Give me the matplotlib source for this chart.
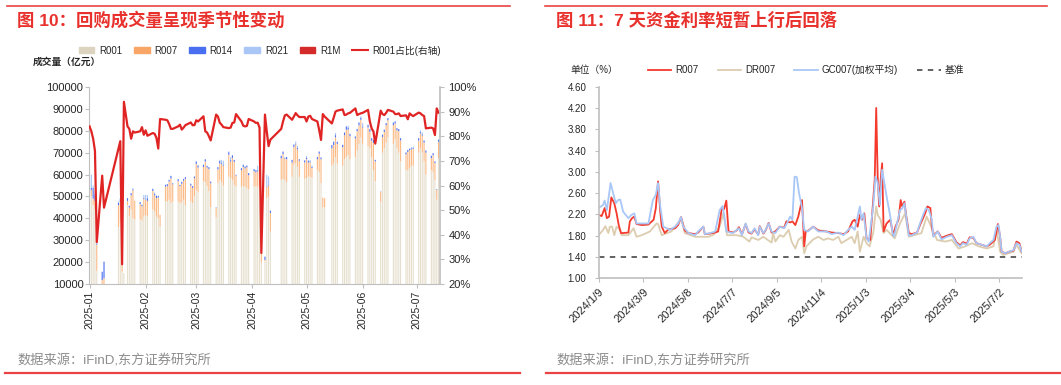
import matplotlib
matplotlib.use("Agg")
import matplotlib.pyplot as plt
from matplotlib.patches import Patch
from matplotlib.lines import Line2D
import numpy as np
import pandas as pd

plt.rcParams['font.family'] = ['Liberation Sans', 'Noto Sans CJK SC']

# ---------------- left chart: repo volume (亿元), x = days after 2025-01-01
day = [0, 1, 2, 3, 4,
       7, 8,
       16, 17, 18, 19,
       21, 22, 23, 24, 25,
       28, 29, 30, 31, 32,
       35, 36, 37, 38, 39,
       42, 43, 44, 45, 46,
       49, 50, 51, 52, 53,
       56, 57, 58, 59, 60,
       63, 64, 65, 66, 67,
       70, 71, 72, 73, 74,
       77, 78, 79, 80, 81,
       84, 85, 86, 87, 88,
       91, 92, 93, 94, 95,
       97, 98, 99, 100,
       106, 107, 108, 109,
       112, 113, 114, 115, 116,
       119, 120, 121, 122, 123,
       126, 127, 128, 129, 130,
       134, 135, 136, 137,
       140, 141, 142, 143, 144,
       147, 148, 149, 150, 151,
       154, 155, 156, 157, 158,
       161, 162, 163, 164, 165,
       168, 169, 170, 171, 172,
       175, 176, 177, 178, 179,
       182, 183, 184, 185, 186,
       189, 190, 191, 192, 193]

r001 = [49000, 50000, 46000, 44000, 16000,
        8000, 9000,
        36000, 38000, 15600, 15000,
        46000, 41000, 44000, 40000, 39500,
        39500, 39000, 40800, 41500, 41000,
        44000, 43000, 40800, 40000, 36200,
        47700, 47700, 48500, 47000, 47700,
        47700, 46900, 47200, 48500, 46000,
        47700, 46900, 50000, 52800, 52000,
        57000, 56400, 54700, 52500, 45000,
        40500, 56000, 57500, 56600, 55000,
        59000, 58400, 57600, 55300, 54500,
        54500, 54500, 54500, 53700, 53200,
        54500, 54500, 54500, 54000, 19800,
        20500, 49200, 50000, 34000,
        57600, 58000, 57500, 56500,
        59000, 64500, 65200, 63500, 58800,
        58000, 58500, 59000, 59000, 58500,
        62000, 61000, 56000, 45000, 45000,
        64000, 65000, 68000, 65000,
        64000, 67000, 68000, 69000, 67000,
        68000, 71000, 74000, 77000, 74000,
        73000, 72000, 68000, 62000, 57000,
        47500, 70000, 72000, 74500, 77000,
        74000, 76000, 72000, 70000, 66000,
        62000, 62000, 63000, 64000, 64000,
        70000, 72000, 70000, 66000, 60000,
        62000, 61000, 57500, 48500, 67500]

r007 = [3000, 3000, 3000, 4000, 12000,
        3800, 3600,
        10000, 9500, 3100, 0,
        2000, 4000, 6500, 12800, 8600,
        7000, 6500, 8000, 7000, 7000,
        8500, 7500, 8500, 9500, 5400,
        6800, 7000, 8300, 11200, 7800,
        9200, 7800, 8600, 8700, 12000,
        7300, 7000, 8300, 12000, 11200,
        6500, 9500, 8500, 10000, 11000,
        4300, 6400, 7500, 8200, 9000,
        10000, 7600, 10000, 10500, 5000,
        7500, 9000, 8300, 9600, 6500,
        7000, 6500, 7000, 6000, 4200,
        500, 5000, 5000, 8500,
        9800, 11300, 9700, 10500,
        6500, 8000, 8500, 8000, 7500,
        7500, 8500, 6500, 6500, 4500,
        5000, 8500, 11000, 4500, 4200,
        8000, 8500, 9000, 9000,
        8500, 11000, 12500, 11500, 10500,
        8500, 8800, 8500, 8000, 7500,
        8500, 7500, 7500, 12500, 9000,
        4500, 7200, 7500, 8000, 7800,
        8600, 7300, 8200, 9800, 9600,
        7200, 8300, 8200, 7500, 7800,
        5500, 6800, 7800, 8600, 10000,
        5500, 7800, 7800, 4500, 7500]

r014 = [1000, 1000, 5000, 3000, 500,
        3800, 7600,
        1000, 1200, 0, 0,
        1200, 700, 1000, 500, 0,
        900, 700, 400, 200, 1200,
        1000, 600, 1000, 800, 0,
        800, 900, 800, 1200, 500,
        1000, 600, 900, 800, 800,
        800, 800, 800, 1200, 1000,
        1000, 1100, 800, 900, 800,
        200, 1000, 1200, 400, 300,
        1200, 600, 1200, 900, 400,
        900, 1000, 900, 800, 1000,
        1000, 1000, 500, 500, 0,
        1500, 300, 400, 1000,
        1200, 1200, 300, 1000,
        1200, 1100, 400, 600, 700,
        1000, 800, 800, 500, 500,
        1000, 1000, 800, 0, 0,
        1500, 1500, 1000, 1000,
        1100, 1200, 1500, 1000, 1100,
        900, 1000, 1300, 1000, 500,
        1200, 1300, 1100, 1400, 700,
        200, 1000, 1000, 1000, 1000,
        1200, 1000, 1000, 1000, 1000,
        900, 1000, 500, 500, 500,
        1100, 600, 600, 1000, 1000,
        1100, 1000, 700, 300, 800]

r021 = [4000, 6000, 1000, 1500, 0,
        0, 0,
        700, 500, 0, 0,
        0, 0, 0, 500, 0,
        0, 0, 1500, 2000, 1400,
        0, 700, 0, 0, 0,
        0, 0, 0, 0, 0,
        0, 0, 0, 0, 0,
        0, 0, 0, 0, 0,
        0, 0, 0, 0, 0,
        0, 0, 500, 1500, 2000,
        400, 1400, 0, 0, 0,
        0, 0, 0, 0, 0,
        0, 0, 2000, 1500, 0,
        0, 5400, 3700, 0,
        0, 0, 500, 0,
        0, 400, 1000, 1000, 0,
        0, 700, 400, 700, 700,
        0, 0, 0, 0, 0,
        0, 0, 1000, 0,
        0, 0, 0, 800, 0,
        0, 0, 0, 600, 1500,
        0, 0, 0, 0, 0,
        0, 0, 0, 0, 0,
        0, 0, 0, 0, 0,
        0, 0, 400, 500, 500,
        0, 800, 800, 0, 0,
        0, 0, 0, 0, 400]

# R001 share of total volume (%), right axis
share = [84, 82, 79, 74, 37,
         64, 51,
         75, 78, 28, 94,
         84, 83, 79, 82, 81.5,
         82, 83.7, 80.6, 82.4, 80.2,
         81.3, 81, 79.3, 75, 87,
         86.7, 86.5, 85, 83, 83,
         84, 84.7, 82.7, 83.5, 84.5,
         85.6, 84.5, 84.5, 86.5, 86,
         88.1, 82, 81.5, 80, 78.3,
         88.8, 88, 85.5, 84.7, 83.7,
         83.3, 83.5, 85.4, 85.6, 89,
         86, 84.3, 84, 84.2, 87,
         86, 85.4, 85.5, 83.5, 32.6,
         88.8, 82, 76, 78.6,
         83, 86, 88.5, 88.8,
         86.7, 88, 89.4, 88.5, 87.8,
         87.8, 86, 88, 88.3, 87,
         86, 82.5, 78.5, 89, 88,
         85.2, 87.5, 90, 90.4,
         90.9, 88.6, 88.8, 89.3, 89.5,
         91.3, 88.6, 89, 89.3, 89.5,
         90.7, 86, 83.2, 81.9, 77,
         90.4, 89, 88.6, 89.5, 90.7,
         90, 89, 89, 89.3, 88.2,
         88.5, 86.9, 89.3, 88.6, 88.2,
         89.6, 89.3, 88.6, 88.2, 83.2,
         83.5, 83.2, 80.5, 91.3, 89.6]

month_days = [0, 31, 59, 90, 120, 151, 181]
month_labels = ['2025-01', '2025-02', '2025-03', '2025-04', '2025-05', '2025-06', '2025-07']

# ---------------- right chart: 7-day rates (%), x = days after 2024-01-09
rate_r007_day = [0, 4, 8, 11, 14, 17, 21, 24, 27, 30, 33, 40, 42, 45, 48, 51, 58, 67, 74, 77,
                 80, 83, 85, 89, 94, 103, 107, 111, 116, 121, 130, 134, 141, 143, 150, 157, 161,
                 166, 169, 172, 175, 181, 186, 189, 193, 198, 202, 206, 210, 215, 217, 222, 225,
                 229, 233, 238, 244, 250, 253, 258, 261, 265, 269, 274, 277, 279, 283, 289, 296,
                 307, 314, 323, 330, 336, 342, 345, 349, 352, 355, 358, 361, 366, 370, 372, 374,
                 376, 378, 380, 382, 384, 388, 393, 397, 400, 404, 407, 409, 412, 414, 418, 422,
                 429, 433, 440, 443, 447, 449, 451, 457, 462, 469, 476, 482, 487, 491, 496, 500,
                 505, 509, 516, 523, 527, 534, 538, 541, 543, 548, 553, 559, 563, 567, 570]
rate_r007 = [2.19, 2.17, 2.32, 2.13, 2.16, 2.52, 2.41, 2.23, 2.00, 1.85, 1.85, 1.86, 2.07, 2.13,
             2.16, 2.02, 2.00, 2.01, 2.10, 2.32, 2.82, 2.25, 1.97, 1.85, 1.92, 1.94, 2.00, 2.15,
             1.90, 1.85, 1.83, 1.86, 1.97, 1.83, 1.84, 1.86, 1.88, 2.32, 2.30, 2.46, 1.88, 1.86,
             1.90, 1.96, 1.82, 2.02, 1.86, 1.84, 1.92, 1.82, 1.98, 1.84, 1.90, 2.04, 1.86, 1.88,
             1.97, 1.95, 2.07, 2.05, 2.07, 2.00, 2.16, 2.47, 1.60, 1.88, 1.90, 1.97, 1.90, 1.88,
             1.86, 1.85, 1.83, 1.88, 2.07, 2.10, 1.97, 2.19, 2.10, 2.22, 1.75, 1.72, 2.47, 2.85,
             4.20, 2.91, 2.35, 2.85, 3.16, 1.88, 2.03, 2.10, 1.81, 1.97, 2.10, 2.47, 2.35, 2.44,
             2.22, 1.85, 1.83, 1.86, 2.00, 2.22, 2.35, 2.32, 1.97, 1.80, 1.88, 1.76, 1.80, 1.83,
             1.68, 1.62, 1.68, 1.65, 1.77, 1.76, 1.66, 1.63, 1.60, 1.63, 1.72, 2.02, 1.78, 1.50,
             1.47, 1.50, 1.52, 1.69, 1.66, 1.50]

rate_dr007_day = [0, 6, 9, 13, 15, 18, 21, 24, 29, 31, 40, 47, 51, 58, 69, 78, 80, 85, 98, 111,
                  116, 130, 148, 155, 163, 168, 173, 186, 195, 203, 206, 215, 222, 233, 235, 238,
                  244, 249, 256, 260, 265, 269, 274, 277, 280, 289, 296, 303, 309, 316, 323, 327,
                  334, 341, 345, 349, 352, 357, 361, 365, 370, 374, 376, 380, 384, 388, 395, 399,
                  406, 413, 418, 435, 442, 449, 456, 467, 476, 485, 494, 503, 512, 523, 532, 536,
                  541, 545, 559, 563, 570]
rate_dr007 = [1.81, 1.91, 1.98, 1.85, 1.97, 1.97, 1.81, 1.97, 1.91, 1.81, 1.81, 1.94, 1.78, 1.81,
              1.88, 2.03, 2.02, 1.81, 1.88, 2.12, 1.85, 1.78, 1.78, 1.82, 1.97, 2.22, 1.81, 1.81,
              1.78, 1.69, 1.77, 1.72, 1.78, 1.67, 1.85, 1.69, 1.81, 1.78, 1.91, 1.69, 1.56, 1.72,
              1.78, 1.47, 1.60, 1.73, 1.78, 1.72, 1.75, 1.72, 1.78, 1.66, 1.72, 1.78, 1.66, 1.88,
              1.50, 1.78, 1.66, 1.60, 1.85, 2.35, 2.19, 2.10, 1.85, 1.91, 1.81, 1.75, 2.03, 2.22,
              1.78, 1.85, 2.16, 1.94, 1.72, 1.69, 1.72, 1.56, 1.60, 1.66, 1.60, 1.56, 1.60, 1.94,
              1.50, 1.44, 1.50, 1.63, 1.47]

rate_gc007_day = [0, 6, 8, 11, 16, 20, 23, 26, 29, 33, 40, 44, 48, 51, 58, 67, 73, 77, 80, 83,
                  87, 92, 96, 103, 107, 111, 114, 121, 130, 134, 141, 143, 150, 157, 163, 167, 170,
                  172, 177, 181, 186, 189, 193, 198, 202, 206, 210, 215, 217, 222, 225, 229, 233,
                  238, 244, 250, 255, 258, 261, 264, 267, 270, 274, 277, 282, 289, 296, 307, 314,
                  323, 330, 336, 341, 345, 350, 352, 354, 357, 361, 364, 370, 373, 376, 379, 382,
                  388, 393, 396, 398, 402, 406, 409, 412, 415, 418, 422, 429, 433, 438, 441, 445,
                  449, 451, 457, 462, 469, 476, 482, 487, 491, 496, 500, 505, 509, 516, 523, 527,
                  532, 536, 539, 541, 543, 548, 553, 559, 563, 567, 570]
rate_gc007 = [2.32, 2.38, 2.46, 2.28, 2.79, 2.57, 2.41, 2.47, 2.48, 2.25, 2.13, 2.19, 2.22, 2.03,
              2.03, 2.03, 2.47, 2.57, 2.79, 2.35, 1.97, 1.94, 1.91, 1.97, 2.03, 2.15, 1.97, 1.85,
              1.81, 1.88, 1.97, 1.83, 1.85, 1.88, 2.28, 2.36, 2.10, 1.88, 1.86, 1.85, 1.91, 1.94,
              1.81, 2.03, 1.88, 1.85, 1.94, 1.81, 1.97, 1.85, 1.91, 2.03, 1.88, 1.85, 1.97, 1.94,
              2.07, 2.16, 2.10, 2.91, 2.90, 2.60, 2.32, 1.91, 1.88, 1.97, 1.88, 1.88, 1.83, 1.86,
              1.81, 1.91, 1.97, 1.91, 2.22, 2.35, 2.10, 2.22, 1.75, 1.69, 2.35, 2.91, 2.79, 2.38,
              3.04, 2.54, 2.16, 1.85, 1.78, 2.03, 2.28, 2.31, 2.41, 2.10, 1.80, 1.81, 1.86, 2.03,
              2.22, 2.32, 2.28, 2.10, 1.78, 1.88, 1.73, 1.78, 1.81, 1.66, 1.60, 1.66, 1.63, 1.75,
              1.78, 1.66, 1.63, 1.60, 1.66, 1.72, 1.97, 2.00, 1.78, 1.50, 1.47, 1.50, 1.53, 1.66,
              1.63, 1.50]

benchmark = 1.40
rate_ticks = [0, 60, 120, 180, 240, 300, 360, 420, 480, 540]

# colours (legend swatches; the thin bars are drawn a shade lighter like the original)
c_r001, c_r007, c_r014, c_r021, c_r1m = '#ddd4bf', '#f9a566', '#4a6ef0', '#a9c6f7', '#d42a2a'
bar_r001, bar_r007 = '#e6dfcd', '#fbb984'
c_share = '#e02424'
c_gray = '#bfbfbf'
c_text = '#262626'
c_title = '#e8312c'

fig = plt.figure(figsize=(10.61, 3.85), dpi=100)
W, H = 1061, 385

# ---------------- left chart
ax1 = fig.add_axes([89 / W, 1 - 284 / H, 351 / W, 197 / H])
a1, a7, a14, a21 = (np.array(v, dtype=float) for v in (r001, r007, r014, r021))
bw = 0.62
kw = dict(width=bw, linewidth=0, snap=False)
ax1.bar(day, a1, color=bar_r001, **kw)
ax1.bar(day, a7, bottom=a1, color=bar_r007, **kw)
ax1.bar(day, a14, bottom=a1 + a7, color=c_r014, **kw)
ax1.bar(day, a21, bottom=a1 + a7 + a14, color=c_r021, **kw)
ax1.set_ylim(10000, 100000)
ax1.set_xlim(-0.3, 193.8)
ax1.set_yticks(range(10000, 100001, 10000))
ax1.set_xticks(month_days)
ax1.set_xticklabels(month_labels, rotation=90)
ax1.tick_params(axis='y', length=3, color=c_gray, labelsize=8, pad=1, labelcolor=c_text)
ax1.tick_params(axis='x', length=3, color=c_gray, labelsize=7.5, pad=2, labelcolor=c_text)
for s in ['top', 'right']:
    ax1.spines[s].set_visible(False)
for s in ['left', 'bottom']:
    ax1.spines[s].set_color(c_gray)

ax1b = ax1.twinx()
ax1b.plot(day, share, color=c_share, lw=1.6)
ax1b.set_ylim(20, 100)
ax1b.set_yticks(range(20, 101, 10))
ax1b.set_yticklabels([f'{v}%' for v in range(20, 101, 10)])
ax1b.tick_params(axis='y', length=3, color=c_gray, labelsize=8, pad=3, labelcolor=c_text)
for s in ['top', 'left', 'bottom']:
    ax1b.spines[s].set_visible(False)
ax1b.spines['right'].set_color(c_gray)
ax1b.spines['right'].set_linewidth(1.2)

fig.text(33 / W, 1 - 62 / H, '成交量（亿元）', fontsize=7, fontweight='bold',
         color=c_text, va='center', ha='left')

h_left = [Patch(color=c_r001), Patch(color=c_r007), Patch(color=c_r014),
          Patch(color=c_r021), Patch(color=c_r1m), Line2D([], [], color=c_share, lw=1.5)]
fig.legend(h_left, ['R001', 'R007', 'R014', 'R021', 'R1M', 'R001占比(右轴)'],
           loc='center', bbox_to_anchor=(260 / W, 1 - 50.5 / H), ncol=6, frameon=False,
           fontsize=7, handlelength=1.6, handleheight=0.55, handletextpad=0.5,
           columnspacing=1.2, labelcolor=c_text)

# ---------------- right chart
ax2 = fig.add_axes([598.7 / W, 1 - 278.3 / H, 423.6 / W, 191.6 / H])
ax2.plot(rate_dr007_day, rate_dr007, color='#dccdb0', lw=1.3)
ax2.plot(rate_r007_day, rate_r007, color='#f4392d', lw=1.3)
ax2.plot(rate_gc007_day, rate_gc007, color='#a9c7f6', lw=1.3)
ax2.axhline(benchmark, color='#555555', lw=1.3, ls=(0, (3, 3)))
ax2.set_xlim(0, 570.9)
ax2.set_ylim(1.0, 4.6)
ax2.set_yticks(np.arange(1.0, 4.61, 0.4))
ax2.set_yticklabels([f'{v:.2f}' for v in np.arange(1.0, 4.61, 0.4)])
base = pd.Timestamp('2024-01-09')
labels = []
for d in rate_ticks:
    t = base + pd.Timedelta(days=d)
    labels.append(f'{t.year}/{t.month}/{t.day}')
ax2.set_xticks(rate_ticks)
ax2.set_xticklabels(labels, rotation=45, ha='right', rotation_mode='anchor')
ax2.tick_params(axis='y', length=3, color=c_gray, labelsize=7, pad=6, labelcolor=c_text)
ax2.tick_params(axis='x', length=3, color=c_gray, labelsize=8, pad=3, labelcolor=c_text)
for s in ['top', 'right']:
    ax2.spines[s].set_visible(False)
for s in ['left', 'bottom']:
    ax2.spines[s].set_color(c_gray)
    ax2.spines[s].set_linewidth(1.2)

fig.text(570 / W, 1 - 70 / H, '单位（%）', fontsize=7, color=c_text, va='center', ha='left')
h_right = [Line2D([], [], color='#f4392d', lw=1.3), Line2D([], [], color='#dccdb0', lw=1.3),
           Line2D([], [], color='#a9c7f6', lw=1.3),
           Line2D([], [], color='#555555', lw=1.3, ls=(0, (3, 3)))]
fig.legend(h_right, ['R007', 'DR007', 'GC007(加权平均)', '基准'],
           loc='center', bbox_to_anchor=(806 / W, 1 - 70 / H), ncol=4, frameon=False,
           fontsize=7, handlelength=2.4, handletextpad=0.4, columnspacing=2.0,
           labelcolor=c_text)

# ---------------- titles, sources and red rules
fig.text(17 / W, 1 - 20 / H, '图 10：回购成交量呈现季节性变动', fontsize=12.5,
         fontweight='bold', color=c_title, va='center', ha='left')
fig.text(556 / W, 1 - 20 / H, '图 11：7 天资金利率短暂上行后回落', fontsize=12.5,
         fontweight='bold', color=c_title, va='center', ha='left')
fig.text(17 / W, 1 - 361 / H, '数据来源：iFinD,东方证券研究所', fontsize=9.5,
         color='#8c8c8c', va='center', ha='left')
fig.text(556 / W, 1 - 361 / H, '数据来源：iFinD,东方证券研究所', fontsize=9.5,
         color='#8c8c8c', va='center', ha='left')

for x0, x1, y, lw in [(7, 510, 5.5, 1.2), (545, 1047, 5.5, 1.2),
                      (5, 520, 373, 1.6), (546, 1061, 373, 1.6)]:
    fig.add_artist(Line2D([x0 / W, x1 / W], [1 - y / H, 1 - y / H], color='#e94343',
                          lw=lw, transform=fig.transFigure))

fig.savefig('out.png', dpi=100)
